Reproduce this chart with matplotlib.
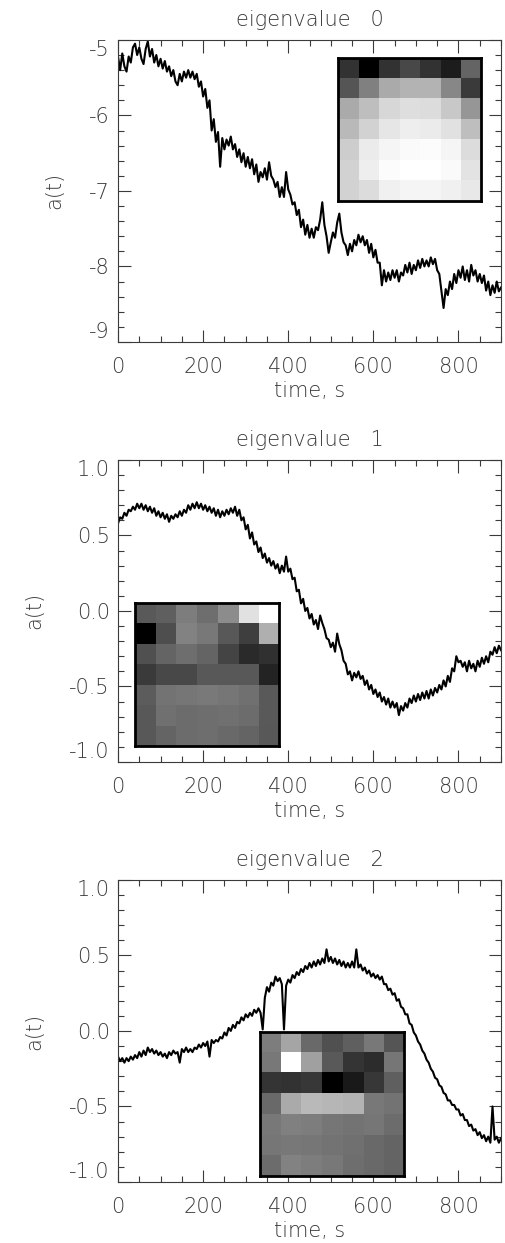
import numpy as np
import matplotlib
matplotlib.use("Agg")
import matplotlib.pyplot as plt
from matplotlib.ticker import MultipleLocator, FormatStrFormatter

plt.rcParams['font.family'] = ['DejaVu Sans']
plt.rcParams['font.weight'] = 'light'

a0 = [-5.22, -5.40, -5.18, -5.35, -5.42, -5.22, -5.30, -5.10, -5.05, -5.20,
      -5.10, -5.25, -5.32, -5.12, -5.02, -5.22, -5.12, -5.30, -5.20, -5.35,
      -5.25, -5.38, -5.28, -5.42, -5.35, -5.48, -5.40, -5.55, -5.60, -5.45,
      -5.55, -5.42, -5.50, -5.40, -5.50, -5.42, -5.52, -5.45, -5.62, -5.55,
      -5.75, -5.65, -5.90, -5.80, -6.20, -6.05, -6.35, -6.22, -6.68, -6.30,
      -6.45, -6.32, -6.40, -6.28, -6.45, -6.38, -6.55, -6.45, -6.62, -6.50,
      -6.68, -6.55, -6.70, -6.58, -6.78, -6.65, -6.88, -6.75, -6.82, -6.70,
      -6.85, -6.62, -6.80, -6.85, -6.95, -6.88, -7.08, -6.95, -7.08, -6.75,
      -6.98, -7.05, -7.18, -7.15, -7.32, -7.25, -7.48, -7.38, -7.58, -7.45,
      -7.62, -7.50, -7.62, -7.48, -7.52, -7.38, -7.15, -7.45, -7.60, -7.82,
      -7.68, -7.55, -7.62, -7.42, -7.30, -7.55, -7.68, -7.72, -7.85, -7.70,
      -7.80, -7.65, -7.72, -7.58, -7.68, -7.60, -7.72, -7.65, -7.82, -7.70,
      -7.88, -7.78, -7.95, -7.95, -8.25, -8.05, -8.20, -8.08, -8.18, -8.05,
      -8.15, -8.05, -8.20, -8.08, -8.12, -7.98, -8.08, -7.95, -8.10, -7.98,
      -8.05, -7.92, -8.02, -7.90, -8.00, -7.92, -8.00, -7.88, -7.97, -7.90,
      -8.05, -8.10, -8.32, -8.55, -8.30, -8.38, -8.20, -8.30, -8.10, -8.22,
      -8.05, -8.15, -8.00, -8.18, -8.05, -8.20, -7.98, -8.12, -8.05, -8.20,
      -8.10, -8.22, -8.12, -8.32, -8.20, -8.38, -8.25, -8.35, -8.20, -8.33,
      -8.28]

a1 = [0.58, 0.62, 0.61, 0.65, 0.63, 0.67, 0.66, 0.69, 0.67, 0.71,
      0.68, 0.71, 0.67, 0.70, 0.66, 0.69, 0.65, 0.68, 0.63, 0.66,
      0.62, 0.65, 0.61, 0.64, 0.59, 0.63, 0.61, 0.64, 0.62, 0.66,
      0.63, 0.67, 0.65, 0.70, 0.67, 0.71, 0.68, 0.72, 0.68, 0.71,
      0.67, 0.70, 0.66, 0.69, 0.65, 0.68, 0.63, 0.67, 0.62, 0.66,
      0.63, 0.67, 0.64, 0.68, 0.65, 0.69, 0.63, 0.67, 0.60, 0.62,
      0.54, 0.57, 0.48, 0.52, 0.44, 0.46, 0.39, 0.42, 0.35, 0.38,
      0.32, 0.35, 0.30, 0.33, 0.28, 0.31, 0.25, 0.30, 0.26, 0.36,
      0.26, 0.28, 0.21, 0.22, 0.13, 0.14, 0.05, 0.08, 0.00, 0.02,
      -0.05, -0.02, -0.09, -0.06, -0.12, -0.03, -0.08, -0.12, -0.18, -0.19,
      -0.24, -0.21, -0.27, -0.15, -0.22, -0.26, -0.33, -0.35, -0.42, -0.40,
      -0.46, -0.41, -0.44, -0.40, -0.45, -0.43, -0.49, -0.46, -0.52, -0.49,
      -0.55, -0.52, -0.57, -0.54, -0.60, -0.57, -0.62, -0.58, -0.64, -0.60,
      -0.64, -0.61, -0.69, -0.63, -0.66, -0.61, -0.64, -0.58, -0.61, -0.56,
      -0.60, -0.55, -0.59, -0.54, -0.58, -0.53, -0.58, -0.52, -0.56, -0.51,
      -0.54, -0.49, -0.52, -0.46, -0.50, -0.43, -0.47, -0.38, -0.40, -0.30,
      -0.34, -0.33, -0.37, -0.34, -0.40, -0.33, -0.38, -0.35, -0.40, -0.33,
      -0.37, -0.31, -0.35, -0.30, -0.34, -0.27, -0.29, -0.24, -0.28, -0.23,
      -0.26]

a2 = [-0.17, -0.20, -0.18, -0.21, -0.18, -0.20, -0.17, -0.19, -0.16, -0.18,
      -0.14, -0.17, -0.13, -0.16, -0.11, -0.14, -0.12, -0.15, -0.13, -0.16,
      -0.14, -0.17, -0.15, -0.18, -0.14, -0.16, -0.13, -0.15, -0.14, -0.21,
      -0.12, -0.14, -0.11, -0.14, -0.12, -0.14, -0.11, -0.12, -0.09, -0.11,
      -0.08, -0.10, -0.07, -0.17, -0.06, -0.08, -0.06, -0.07, -0.04, -0.05,
      -0.01, -0.03, 0.02, 0.00, 0.04, 0.02, 0.06, 0.05, 0.09, 0.07,
      0.11, 0.09, 0.12, 0.10, 0.14, 0.12, 0.15, 0.12, 0.01, 0.22,
      0.29, 0.26, 0.32, 0.30, 0.36, 0.33, 0.35, 0.31, 0.01, 0.30,
      0.34, 0.32, 0.37, 0.35, 0.39, 0.37, 0.41, 0.39, 0.43, 0.41,
      0.45, 0.42, 0.46, 0.43, 0.47, 0.44, 0.48, 0.45, 0.54, 0.46,
      0.49, 0.45, 0.48, 0.44, 0.47, 0.43, 0.46, 0.42, 0.45, 0.42,
      0.46, 0.42, 0.54, 0.42, 0.44, 0.40, 0.42, 0.38, 0.40, 0.36,
      0.38, 0.35, 0.37, 0.34, 0.36, 0.31, 0.31, 0.27, 0.28, 0.24,
      0.25, 0.20, 0.21, 0.16, 0.15, 0.11, 0.11, 0.05, 0.04, -0.01,
      -0.03, -0.07, -0.09, -0.13, -0.15, -0.19, -0.21, -0.25, -0.27, -0.31,
      -0.32, -0.36, -0.37, -0.41, -0.42, -0.46, -0.46, -0.49, -0.49, -0.52,
      -0.52, -0.56, -0.55, -0.59, -0.59, -0.63, -0.62, -0.66, -0.65, -0.69,
      -0.67, -0.71, -0.69, -0.73, -0.70, -0.74, -0.50, -0.72, -0.70, -0.74,
      -0.71]

# 7x7 eigenimages, grey levels 0-255
img0 = [[50, 0, 50, 72, 50, 28, 100],
        [85, 128, 170, 180, 180, 135, 58],
        [170, 190, 215, 222, 220, 200, 150],
        [185, 210, 230, 238, 235, 225, 190],
        [205, 235, 245, 250, 252, 245, 220],
        [210, 238, 252, 255, 255, 250, 228],
        [210, 220, 240, 245, 245, 240, 232]]
img1 = [[90, 95, 125, 110, 140, 225, 255],
        [0, 78, 130, 120, 88, 62, 175],
        [80, 100, 110, 100, 68, 42, 48],
        [58, 72, 72, 88, 88, 88, 35],
        [92, 115, 118, 122, 118, 112, 90],
        [88, 112, 108, 110, 112, 108, 90],
        [88, 100, 108, 110, 105, 100, 88]]
img2 = [[125, 165, 105, 80, 95, 120, 85],
        [120, 255, 160, 90, 52, 45, 118],
        [52, 50, 55, 0, 25, 55, 95],
        [105, 170, 185, 182, 180, 120, 115],
        [120, 128, 125, 118, 115, 118, 108],
        [118, 120, 118, 115, 112, 105, 100],
        [108, 130, 125, 120, 110, 105, 100]]

titles = ["eigenvalue   0", "eigenvalue   1", "eigenvalue   2"]
series = [a0, a1, a2]
images = [img0, img1, img2]
ylims = [(-9.0, -5.0), (-1.0, 1.0), (-1.0, 1.0)]
ymajor = [1.0, 0.5, 0.5]
yminor = [0.2, 0.1, 0.1]
yfmt = ["%d", "%.1f", "%.1f"]
bottoms = [0.7249, 0.3870, 0.0491]
insets = [[0.574, 0.465, 0.374, 0.476],
          [0.044, 0.053, 0.376, 0.473],
          [0.371, 0.020, 0.376, 0.477]]

tc = "#3a3a3a"
fs = 15
fig = plt.figure(figsize=(5.05, 12.43), dpi=100)
axes = []
for i in range(3):
    ax = fig.add_axes([0.2337, bottoms[i], 0.7584, 0.2430])
    axes.append(ax)
    y = np.array(series[i])
    t = np.linspace(0, 900, len(y))
    ax.plot(t, y, color="black", lw=1.5)
    ax.set_xlim(0, 900)
    ax.set_ylim(*ylims[i])
    ax.xaxis.set_major_locator(MultipleLocator(200))
    ax.xaxis.set_minor_locator(MultipleLocator(50))
    ax.yaxis.set_major_locator(MultipleLocator(ymajor[i]))
    ax.yaxis.set_minor_locator(MultipleLocator(yminor[i]))
    ax.yaxis.set_major_formatter(FormatStrFormatter(yfmt[i]))
    ax.tick_params(which="both", direction="in", top=True, right=True,
                   colors=tc, labelsize=fs, width=0.8)
    ax.tick_params(which="major", length=9)
    ax.tick_params(axis="x", which="major", pad=11)
    ax.tick_params(axis="y", which="major", pad=6)
    ax.tick_params(which="minor", length=4.5)
    for s in ax.spines.values():
        s.set_color(tc)
        s.set_linewidth(0.8)
    ax.set_title(titles[i], fontsize=fs, color=tc, pad=10, fontweight="light")
    ax.set_xlabel("time, s", fontsize=fs, color=tc, labelpad=3, fontweight="light")
    ax.set_ylabel("a(t)", fontsize=fs, color=tc, labelpad=18, fontweight="light")

    ins = ax.inset_axes(insets[i])
    ins.imshow(np.array(images[i]), cmap="gray", vmin=0, vmax=255,
               interpolation="nearest", aspect="auto")
    ins.set_xticks([])
    ins.set_yticks([])
    for s in ins.spines.values():
        s.set_color("black")
        s.set_linewidth(2)
    ins.set_zorder(5)

# end labels sit inside the axis range, as in the original
fig.canvas.draw()
for ax, (lo, hi) in zip(axes, ylims):
    for tick in ax.yaxis.get_major_ticks():
        if np.isclose(tick.get_loc(), lo):
            tick.label1.set_verticalalignment("bottom")
        elif np.isclose(tick.get_loc(), hi):
            tick.label1.set_verticalalignment("top")

fig.savefig("out.png", dpi=100)
